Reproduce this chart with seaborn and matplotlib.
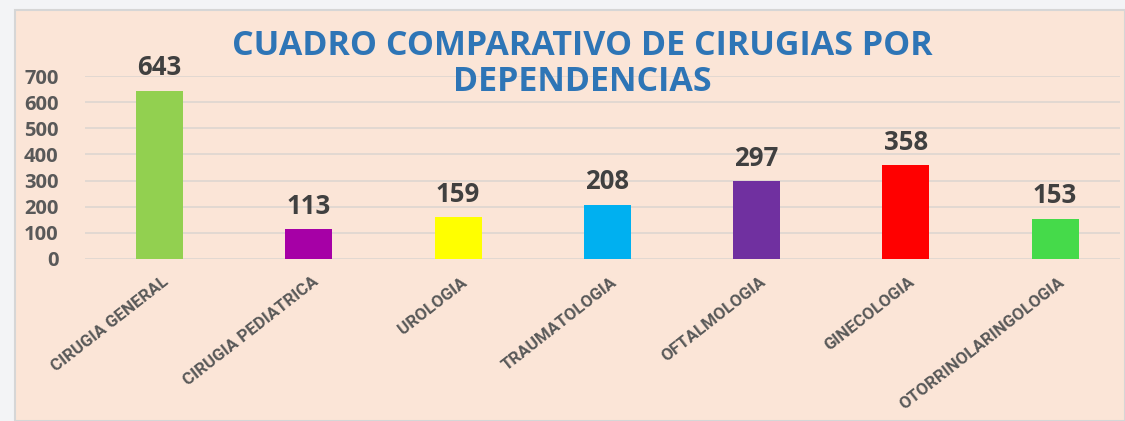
import matplotlib
matplotlib.use("Agg")
import matplotlib.pyplot as plt
import matplotlib.transforms as mtransforms
import seaborn as sns
import pandas as pd
from matplotlib.patches import Rectangle

categories = ["CIRUGIA GENERAL", "CIRUGIA PEDIATRICA", "UROLOGIA", "TRAUMATOLOGIA",
              "OFTALMOLOGIA", "GINECOLOGIA", "OTORRINOLARINGOLOGIA"]
values = [643, 113, 159, 208, 297, 358, 153]
colors = ["#92D050", "#A600A6", "#FFFF00", "#00B0F0", "#7030A0", "#FF0000", "#45DA4A"]
y_ticks = [0, 100, 200, 300, 400, 500, 600, 700]
title = "CUADRO COMPARATIVO DE CIRUGIAS POR\nDEPENDENCIAS"

sns.set_theme(style="white")
plt.rcParams['font.family'] = ['Open Sans', 'DejaVu Sans']

W, H = 1125, 421
fig = plt.figure(figsize=(W / 100, H / 100), dpi=100)
fig.patch.set_facecolor("#F3F4F6")
bg = "#FBE5D7"
fig.patches.append(Rectangle((15 / W, 0), 1 - 15 / W, 1 - 10 / H, transform=fig.transFigure,
                             facecolor=bg, edgecolor="#D6D6D6", linewidth=1.5, zorder=-10))

ax = fig.add_axes([85 / W, 1 - 259 / H, (1120 - 85) / W, (259 - 76) / H])
ax.set_facecolor("none")
ax.set_zorder(1)

df = pd.DataFrame({"cat": categories, "val": values})
sns.barplot(data=df, x="cat", y="val", hue="cat", palette=colors, legend=False,
            width=0.315, ax=ax, saturation=1, zorder=3, linewidth=0, edgecolor="none")

ax.set_xlim(-0.5, 6.435)
ax.set_ylim(0, 700)
ax.set_yticks(y_ticks)
ax.set_yticklabels([str(t) for t in y_ticks], fontsize=14.5, fontweight="bold", color="#595959")
ax.yaxis.grid(True, color="#DDD6D0", linewidth=1.2, zorder=0)
ax.set_axisbelow(True)
ax.xaxis.grid(False)
for s in ax.spines.values():
    s.set_visible(False)
ax.tick_params(axis="y", length=0, pad=19)
ax.tick_params(axis="x", length=0, pad=11)
ax.set_xlabel("")
ax.set_ylabel("")
ax.set_xticks(range(len(categories)))
ax.set_xticklabels(categories, rotation=38, ha="right", va="top", rotation_mode="anchor",
                   fontsize=12.2, fontweight="bold", color="#595959",
                   family=["Roboto", "Open Sans", "DejaVu Sans"])
offset = mtransforms.ScaledTranslation(2 / 72, 0, fig.dpi_scale_trans)
for lab in ax.get_xticklabels():
    lab.set_transform(lab.get_transform() + offset)

for i, v in enumerate(values):
    ax.annotate(str(v), (i, v), xytext=(0, 7), textcoords="offset points",
                ha="center", va="bottom", fontsize=18.5, fontweight="bold",
                color="#404040", annotation_clip=False)

fig.text(582 / W, 1 - 64 / H, title, ha="center", va="center", fontsize=24.5,
         fontweight="bold", color="#2E75B6", linespacing=1.06)

fig.savefig("out.png", dpi=100, facecolor=fig.get_facecolor())
